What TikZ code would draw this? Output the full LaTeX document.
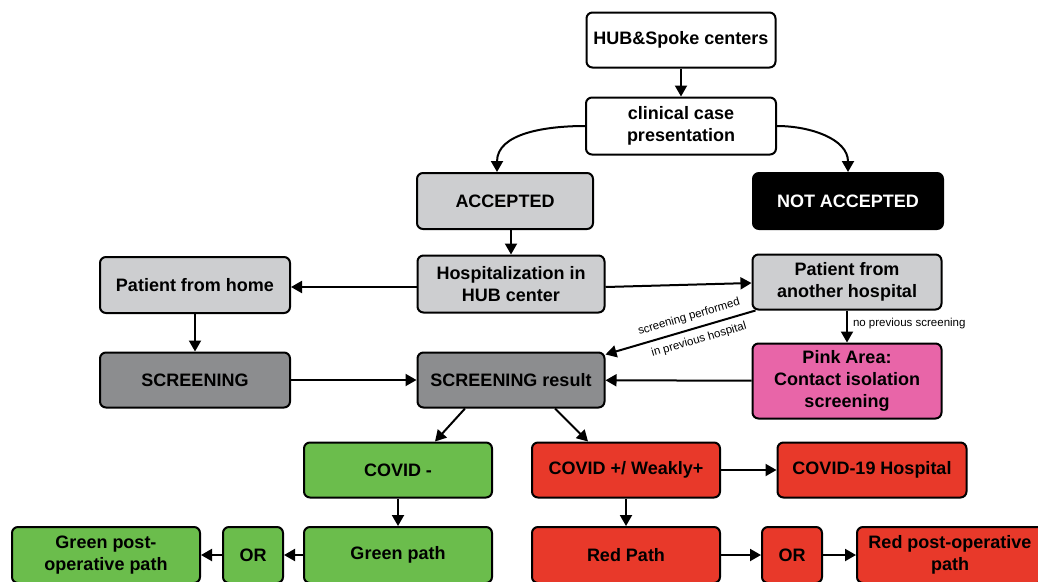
\documentclass[tikz,border=0pt]{standalone}
\usepackage{fontspec}
\setmainfont{Liberation Sans}
\usetikzlibrary{arrows.meta,calc}
\definecolor{lgrey}{HTML}{CDCED0}
\definecolor{dgrey}{HTML}{8C8D8F}
\definecolor{pinkc}{HTML}{E865A8}
\definecolor{greenc}{HTML}{6BBD4C}
\definecolor{redc}{HTML}{E8392A}
\begin{document}
\begin{tikzpicture}[x=1pt,y=-1pt,
  box/.style={draw=black, line width=2pt, rounded corners=6pt, minimum height=56pt,
    minimum width=188pt, align=center, inner sep=2pt,
    font=\bfseries\fontsize{18}{22}\selectfont},
  arr/.style={line width=2pt, -{Triangle[length=11pt,width=12pt]}},
  small/.style={font=\fontsize{11.5}{13}\selectfont, inner sep=7pt}]
\useasboundingbox (0,0) rectangle (1038,581);
\clip (0,0) rectangle (1038,581);
\fill[white] (0,0) rectangle (1038,581);
% nodes
\node[box, fill=white, minimum width=189pt, minimum height=55pt] (hub) at (681,40) {HUB\&Spoke centers};
\node[box, fill=white, minimum width=190pt, minimum height=57pt] (clin) at (681,126) {clinical case\\presentation};
\node[box, fill=lgrey, minimum width=176pt] (acc) at (505,201) {ACCEPTED};
\node[box, fill=black, text=white, minimum width=190pt] (nacc) at (848,201) {NOT ACCEPTED};
\node[box, fill=lgrey, minimum width=187pt, minimum height=57pt] (hosp) at (511,284) {Hospitalization in\\HUB center};
\node[box, fill=lgrey, minimum width=190pt] (home) at (195,285) {Patient from home};
\node[box, fill=lgrey, minimum width=189pt, minimum height=55pt] (other) at (847,282) {Patient from\\another hospital};
\node[box, fill=dgrey, minimum width=190pt, minimum height=55pt] (scr) at (195,380) {SCREENING};
\node[box, fill=dgrey, minimum width=187pt, minimum height=55pt] (res) at (511,380) {SCREENING result};
\node[box, fill=pinkc, minimum width=189pt, minimum height=75pt] (pink) at (847,381) {Pink Area:\\Contact isolation\\screening};
\node[box, fill=greenc, minimum width=188pt, minimum height=55pt] (neg) at (398,470) {COVID -};
\node[box, fill=redc, minimum width=188pt, minimum height=55pt] (pos) at (626,470) {COVID +/ Weakly+};
\node[box, fill=redc, minimum width=189pt, minimum height=55pt] (c19) at (872,470) {COVID-19 Hospital};
\node[box, fill=greenc, minimum width=188pt, minimum height=56pt] (gpath) at (398,555) {Green path};
\node[box, fill=greenc, minimum width=60pt, minimum height=56pt] (gor) at (253,555) {OR};
\node[box, fill=greenc, minimum width=188pt, minimum height=56pt] (gpost) at (106,555) {Green post-\\operative path};
\node[box, fill=redc, minimum width=188pt, minimum height=56pt] (rpath) at (626,555) {Red Path};
\node[box, fill=redc, minimum width=60pt, minimum height=56pt] (ror) at (792,555) {OR};
\node[box, fill=redc, minimum width=186pt, minimum height=56pt] (rpost) at (950,555) {Red post-operative\\path};
% connectors
\draw[arr] (hub) -- (clin);
\draw[arr] (clin.west) to[out=180,in=90] ($(acc.north)+(-8,0)$);
\draw[arr] (clin.east) to[out=0,in=90] (nacc.north);
\draw[arr] (acc.south -| hosp.north) -- (hosp.north);
\draw[arr] ($(hosp.west)+(0,3)$) -- ($(home.east)+(0,2)$);
\draw[arr] ($(hosp.east)+(0,3)$) -- ($(other.west)+(0,1)$);
\draw[arr] (home) -- (scr);
\draw[arr] (scr) -- (res);
\draw[arr] ($(other.south west)+(4,0)$) -- ($(res.north east)+(0,3)$)
  node[pos=0.42, above, sloped, small, inner sep=6pt] (lab1) {screening performed}
  node[pos=0.40, below, sloped, small, inner sep=6pt] (lab2) {in previous hospital};
\draw[arr] (other) -- (pink) node[pos=0.4, right=4pt, small, inner sep=1pt] (lab3) {no previous screening};
\draw[arr] (pink) -- (res);
\draw[arr] ($(res.south)+(-46,0)$) -- ($(neg.north)+(37,0)$);
\draw[arr] ($(res.south)+(44,0)$) -- ($(pos.north)+(-38,0)$);
\draw[arr] (pos) -- (c19);
\draw[arr] (neg) -- (gpath);
\draw[arr] (pos) -- (rpath);
\draw[arr] (gpath) -- (gor);
\draw[arr] (gor) -- (gpost);
\draw[arr] (rpath) -- (ror);
\draw[arr] (ror) -- (rpost);
\end{tikzpicture}
\end{document}
